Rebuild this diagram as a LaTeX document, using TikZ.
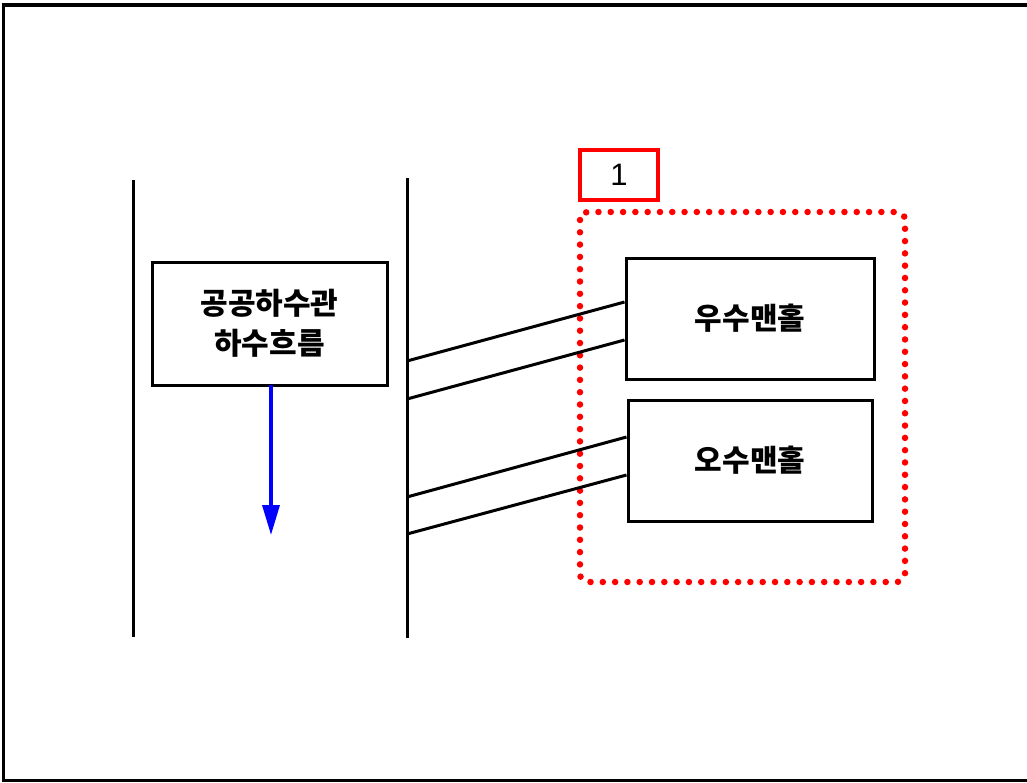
\documentclass[tikz,border=0pt]{standalone}
\usepackage{fontspec}
\newfontfamily\kr{Noto Sans CJK KR}
\newfontfamily\numfont{Liberation Sans}
\usepackage{tikz}
\usetikzlibrary{arrows, arrows.meta, positioning, calc}
\tikzstyle{wall} = [line width=3pt]
\tikzstyle{pipebox} = [rectangle, draw=black, line width=3pt, fill=white, align=center, font=\kr\bfseries\fontsize{30}{40}\selectfont]
\tikzstyle{branch} = [line width=3pt]
\tikzstyle{flow} = [line width=3.5pt, blue, -{Triangle[length=30pt, width=17pt]}]
\tikzstyle{zone} = [red, line width=6.5pt, line cap=round, dash pattern=on 0pt off 12.3pt, rounded corners=8pt]
\tikzstyle{tag} = [rectangle, draw=red, line width=4.5pt, minimum width=78pt, minimum height=50pt, font=\numfont\fontsize{31}{31}\selectfont]

\begin{document}
\begin{tikzpicture}[x=1pt, y=-1pt]
    \useasboundingbox (0,0) rectangle (1027,782);
    % Frame
    \draw[line width=3.5pt] (1027,5) -- (3.5,5) -- (3.5,780.5) -- (1027,780.5);

    % Public sewer walls
    \draw[wall] (133,180) -- (133,637);
    \draw[wall] (407,178) -- (407,638);

    % Main flow
    \node[pipebox, minimum width=235pt, minimum height=123pt] (sewer) at (269.5,323.5) {공공하수관\\하수흐름};
    \coordinate (flowstart) at (271,385);
    \coordinate[below=150pt of flowstart] (flowend);
    \draw[flow] (flowstart) -- (flowend);

    % Manholes
    \draw[zone] (580,212) rectangle (905,582);
    \node[tag] (tagone) at (619,175) {1};
    \node[pipebox, minimum width=248pt, minimum height=121pt] (rainhole) at (750,318.5) {우수맨홀};
    \node[pipebox, minimum width=244pt, minimum height=121pt, below=18pt of rainhole.south, anchor=north] (wastehole) {오수맨홀};

    % Branch pipes
    \coordinate (ra) at (407,361);
    \coordinate (rb) at (407,399);
    \coordinate (wa) at (407,497);
    \coordinate (wb) at (407,534);
    \draw[branch] (ra) -- (rainhole.west |- 0,302);
    \draw[branch] (rb) -- (rainhole.west |- 0,340);
    \draw[branch] (wa) -- (wastehole.west |- 0,437);
    \draw[branch] (wb) -- (wastehole.west |- 0,475);

\end{tikzpicture}
\end{document}
